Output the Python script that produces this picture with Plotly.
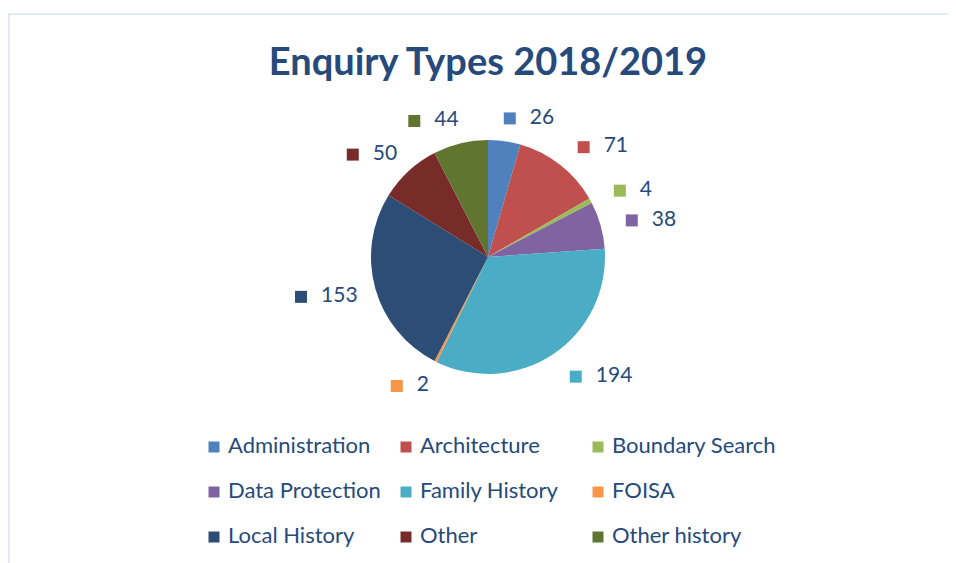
import math

import plotly.graph_objects as go

# data
categories = [
    "Administration",
    "Architecture",
    "Boundary Search",
    "Data Protection",
    "Family History",
    "FOISA",
    "Local History",
    "Other",
    "Other history",
]
counts = [26, 71, 4, 38, 194, 2, 153, 50, 44]
slice_colors = [
    "#4F81BD",
    "#C0504D",
    "#9BBB59",
    "#8064A2",
    "#4BACC6",
    "#F79646",
    "#2C4D75",
    "#772C2A",
    "#5F7530",
]
title_text = "Enquiry Types 2018/2019"

# the page has an 8px body margin, so the figure is smaller and the axes
# are set up in page pixel coordinates
PAGE_W, PAGE_H = 956, 563
PAD = 8
W, H = PAGE_W - PAD, PAGE_H - PAD
FONT = "Lato, 'Open Sans', sans-serif"
TEXT_COLOR = "#254A7B"

# pie geometry in page pixels
cx, cy, r = 488, 257, 117
anchor_cx, anchor_cy = 492, 259
anchor_rx, anchor_ry = 139, 133


def px_x(v):
    return (v - PAD) / W


def px_y(v):
    return 1 - (v - PAD) / H


fig = go.Figure()

fig.add_trace(
    go.Pie(
        labels=categories,
        values=counts,
        marker=dict(colors=slice_colors, line=dict(width=0)),
        sort=False,
        direction="clockwise",
        rotation=0,
        textinfo="none",
        hoverinfo="label+value",
        showlegend=False,
        domain=dict(x=[px_x(cx - r), px_x(cx + r)], y=[px_y(cy + r), px_y(cy - r)]),
    )
)

# data labels (square + value): the label box sits just outside the pie,
# its nearest side touching a point on the slice bisector
total = sum(counts)
mark_x, mark_y = [], []
cum = 0
for v in counts:
    mid = (cum + v / 2) / total * 2 * math.pi
    cum += v
    s, c = math.sin(mid), math.cos(mid)
    ax = anchor_cx + anchor_rx * s
    ay = anchor_cy - anchor_ry * c
    box_w, box_h = 27 + 12 * len(str(v)), 18
    gx = ax + box_w / 2 * max(-1, min(1, 5 * s))
    gy = ay - box_h / 2 * c
    mark_x.append(gx - box_w / 2 + 6)
    mark_y.append(gy)

fig.add_trace(
    go.Scatter(
        x=mark_x,
        y=mark_y,
        mode="markers",
        marker=dict(symbol="square", size=12, color=slice_colors),
        hoverinfo="skip",
        showlegend=False,
    )
)
fig.add_trace(
    go.Scatter(
        x=[x + 20 for x in mark_x],
        y=mark_y,
        mode="text",
        text=[str(v) for v in counts],
        textposition="middle right",
        textfont=dict(family=FONT, size=21, color=TEXT_COLOR),
        hoverinfo="skip",
        showlegend=False,
    )
)

# legend drawn as a 3 x 3 grid
col_x = [214, 406, 598]
row_y = [447, 492, 537]
leg_x = [col_x[i % 3] for i in range(len(categories))]
leg_y = [row_y[i // 3] for i in range(len(categories))]

fig.add_trace(
    go.Scatter(
        x=leg_x,
        y=leg_y,
        mode="markers",
        marker=dict(symbol="square", size=11, color=slice_colors),
        hoverinfo="skip",
        showlegend=False,
    )
)
fig.add_trace(
    go.Scatter(
        x=[x + 14 for x in leg_x],
        y=leg_y,
        mode="text",
        text=categories,
        textposition="middle right",
        textfont=dict(family=FONT, size=22, color=TEXT_COLOR),
        hoverinfo="skip",
        showlegend=False,
    )
)

fig.update_layout(
    width=W,
    height=H,
    margin=dict(l=0, r=0, t=0, b=0),
    paper_bgcolor="white",
    plot_bgcolor="rgba(0,0,0,0)",
    title=dict(
        text=title_text,
        x=px_x(488),
        xanchor="center",
        y=px_y(62),
        yanchor="middle",
        font=dict(family=FONT, size=38, color=TEXT_COLOR, weight="bold"),
    ),
    xaxis=dict(range=[PAD, PAGE_W], visible=False, fixedrange=True),
    yaxis=dict(range=[PAGE_H, PAD], visible=False, fixedrange=True),
    shapes=[
        dict(
            type="rect",
            xref="x",
            yref="y",
            x0=PAD + 1,
            y0=14,
            x1=PAGE_W + 10,
            y1=PAGE_H + 10,
            line=dict(color="#D9E3F0", width=1.5),
            layer="below",
        )
    ],
)

fig.write_html("out.html")
